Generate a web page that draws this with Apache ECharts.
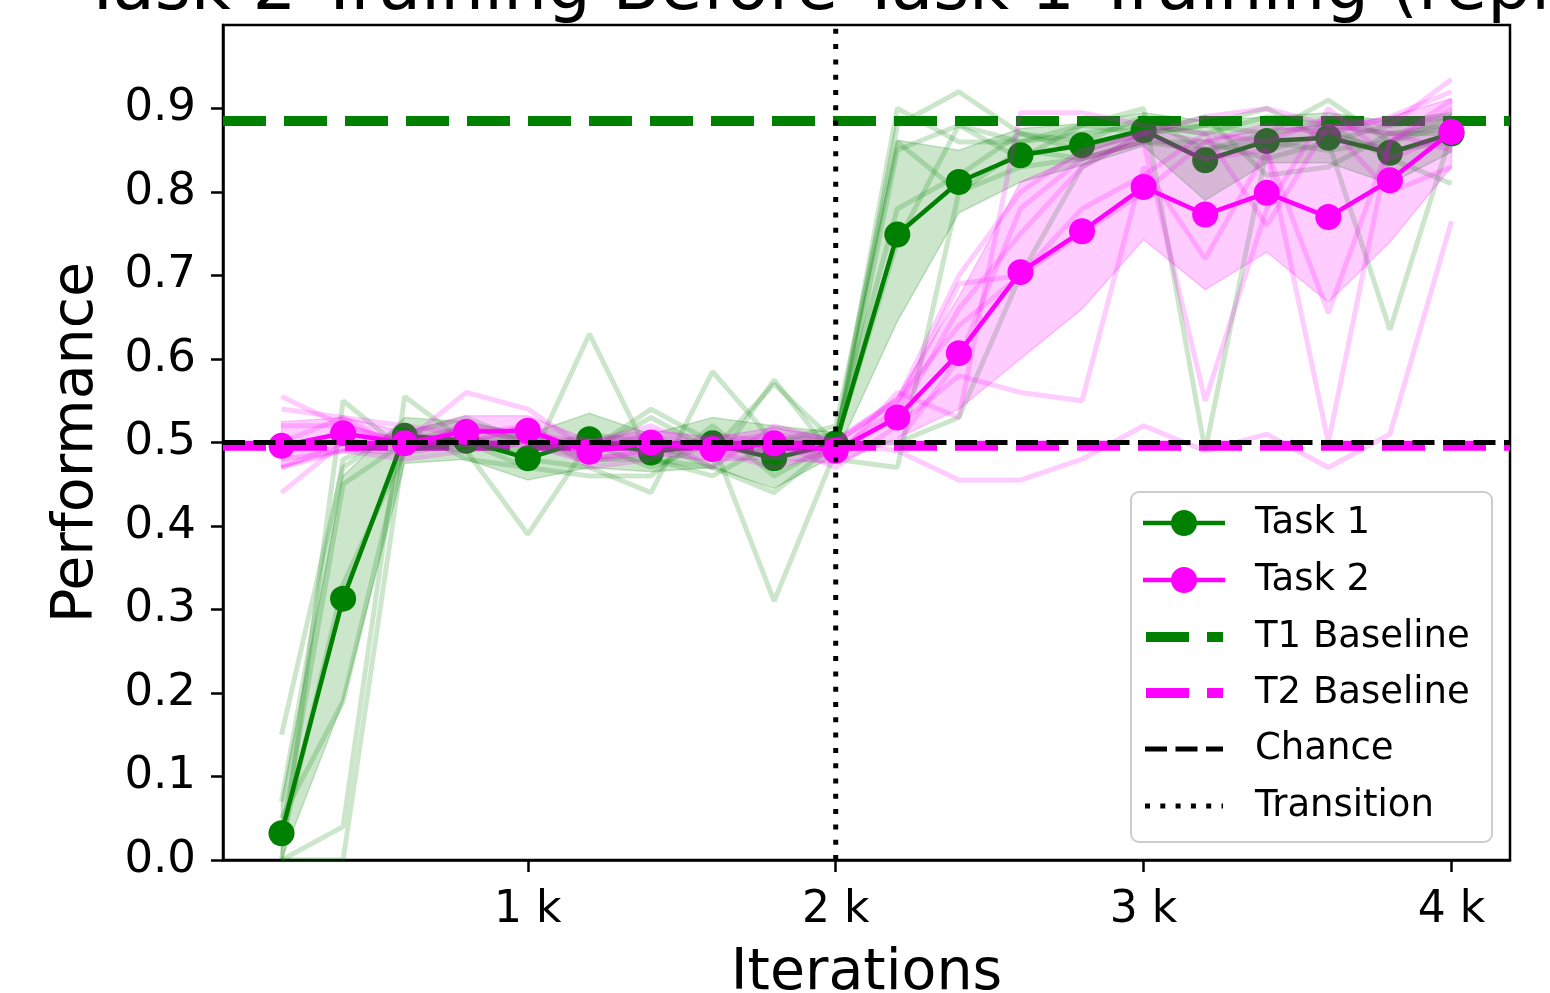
<!DOCTYPE html>
<html>
<head>
<meta charset="utf-8">
<script src="https://cdn.jsdelivr.net/npm/echarts@6/dist/echarts.min.js"></script>
<style>
  html, body { margin: 0; padding: 0; background: #ffffff; }
  #chart { width: 1550px; height: 993px; }
</style>
</head>
<body>
<div id="chart"></div>
<script>
// Evaluation checkpoints (training iterations)
const ITERATIONS = [200, 400, 600, 800, 1000, 1200, 1400, 1600, 1800, 2000,
                    2200, 2400, 2600, 2800, 3000, 3200, 3400, 3600, 3800, 4000];

// Mean performance across replicates
const TASK1_MEAN = [0.032, 0.313, 0.508, 0.502, 0.481, 0.504, 0.488, 0.499, 0.481, 0.499,
                    0.749, 0.812, 0.844, 0.856, 0.874, 0.838, 0.861, 0.865, 0.847, 0.870];
const TASK2_MEAN = [0.496, 0.511, 0.499, 0.513, 0.514, 0.489, 0.500, 0.492, 0.499, 0.490,
                    0.530, 0.607, 0.704, 0.753, 0.806, 0.773, 0.799, 0.770, 0.814, 0.872];

// Spread band (lower / upper) around each mean
const TASK1_LOW  = [0.000, 0.190, 0.475, 0.480, 0.455, 0.470, 0.465, 0.470, 0.445, 0.485,
                    0.645, 0.775, 0.812, 0.832, 0.855, 0.790, 0.835, 0.835, 0.810, 0.848];
const TASK1_HIGH = [0.070, 0.460, 0.530, 0.525, 0.510, 0.535, 0.510, 0.530, 0.520, 0.512,
                    0.862, 0.850, 0.876, 0.882, 0.895, 0.885, 0.890, 0.895, 0.885, 0.895];
const TASK2_LOW  = [0.470, 0.490, 0.485, 0.495, 0.495, 0.475, 0.485, 0.478, 0.480, 0.475,
                    0.505, 0.540, 0.600, 0.660, 0.743, 0.683, 0.728, 0.668, 0.740, 0.830];
const TASK2_HIGH = [0.525, 0.530, 0.513, 0.532, 0.532, 0.503, 0.515, 0.506, 0.518, 0.505,
                    0.555, 0.675, 0.812, 0.845, 0.875, 0.862, 0.875, 0.880, 0.890, 0.912];

// Individual replicate runs, Task 1
const TASK1_RUNS = [
  [0.00, 0.00, 0.50, 0.49, 0.39, 0.50, 0.47, 0.50, 0.49, 0.50, 0.90, 0.86, 0.86, 0.87, 0.88, 0.87, 0.89, 0.88, 0.87, 0.88],
  [0.15, 0.47, 0.52, 0.48, 0.47, 0.63, 0.48, 0.47, 0.44, 0.50, 0.88, 0.92, 0.87, 0.86, 0.89, 0.85, 0.87, 0.91, 0.86, 0.89],
  [0.07, 0.48, 0.51, 0.53, 0.50, 0.49, 0.54, 0.50, 0.31, 0.49, 0.85, 0.88, 0.84, 0.88, 0.90, 0.49, 0.85, 0.87, 0.85, 0.86],
  [0.03, 0.45, 0.50, 0.51, 0.48, 0.47, 0.44, 0.585, 0.50, 0.51, 0.78, 0.82, 0.87, 0.85, 0.87, 0.88, 0.87, 0.88, 0.84, 0.81],
  [0.00, 0.04, 0.555, 0.50, 0.49, 0.51, 0.50, 0.47, 0.575, 0.48, 0.47, 0.80, 0.85, 0.84, 0.86, 0.86, 0.84, 0.86, 0.635, 0.87],
  [0.02, 0.33, 0.49, 0.50, 0.47, 0.46, 0.46, 0.52, 0.46, 0.50, 0.50, 0.53, 0.70, 0.83, 0.87, 0.88, 0.90, 0.86, 0.88, 0.89],
  [0.05, 0.19, 0.50, 0.52, 0.50, 0.48, 0.48, 0.46, 0.50, 0.52, 0.86, 0.80, 0.83, 0.84, 0.86, 0.85, 0.86, 0.85, 0.86, 0.88],
  [0.00, 0.55, 0.49, 0.50, 0.51, 0.49, 0.53, 0.49, 0.57, 0.50, 0.74, 0.88, 0.86, 0.88, 0.87, 0.89, 0.82, 0.83, 0.87, 0.87]
];

// Individual replicate runs, Task 2
const TASK2_RUNS = [
  [0.555, 0.52, 0.50, 0.56, 0.54, 0.49, 0.50, 0.49, 0.50, 0.48, 0.56, 0.53, 0.895, 0.895, 0.88, 0.87, 0.86, 0.89, 0.88, 0.935],
  [0.44, 0.50, 0.51, 0.50, 0.52, 0.48, 0.49, 0.50, 0.51, 0.50, 0.49, 0.455, 0.455, 0.48, 0.52, 0.49, 0.51, 0.47, 0.51, 0.765],
  [0.54, 0.53, 0.49, 0.52, 0.51, 0.50, 0.52, 0.49, 0.49, 0.49, 0.53, 0.66, 0.75, 0.83, 0.87, 0.84, 0.85, 0.655, 0.86, 0.90],
  [0.48, 0.49, 0.50, 0.50, 0.50, 0.49, 0.51, 0.47, 0.52, 0.50, 0.55, 0.64, 0.70, 0.75, 0.80, 0.86, 0.88, 0.87, 0.89, 0.92],
  [0.50, 0.53, 0.52, 0.51, 0.52, 0.47, 0.48, 0.51, 0.50, 0.47, 0.52, 0.58, 0.56, 0.55, 0.83, 0.72, 0.85, 0.50, 0.86, 0.91],
  [0.47, 0.50, 0.49, 0.52, 0.50, 0.50, 0.50, 0.49, 0.47, 0.49, 0.50, 0.60, 0.78, 0.84, 0.86, 0.55, 0.78, 0.90, 0.84, 0.87],
  [0.52, 0.52, 0.50, 0.50, 0.52, 0.48, 0.49, 0.50, 0.50, 0.50, 0.55, 0.70, 0.80, 0.85, 0.87, 0.89, 0.90, 0.88, 0.87, 0.85],
  [0.47, 0.49, 0.48, 0.49, 0.50, 0.50, 0.51, 0.49, 0.50, 0.49, 0.54, 0.69, 0.70, 0.78, 0.82, 0.87, 0.76, 0.88, 0.80, 0.83]
];

// Reference levels
const T1_BASELINE = 0.885;
const T2_BASELINE = 0.496;
const CHANCE = 0.5;
const TRANSITION = 2000;

// Axis settings
const X_MIN = 10, X_MAX = 4190;
const X_TICKS = [1000, 2000, 3000, 4000];
const Y_TICKS = [0, 0.1, 0.2, 0.3, 0.4, 0.5, 0.6, 0.7, 0.8, 0.9];

const TITLE = 'Task 2 Training Before Task 1 Training (replay)';
const LEGEND_LABELS = ['Task 1', 'Task 2', 'T1 Baseline', 'T2 Baseline', 'Chance', 'Transition'];

const GREEN = '#008000';
const MAGENTA = '#ff00ff';
const FONT = 'DejaVu Sans';

const pairs = (ys) => ITERATIONS.map((x, i) => [x, ys[i]]);

function runSeries(runs, color, z) {
  return runs.map((r) => ({
    type: 'line',
    data: pairs(r),
    showSymbol: false,
    symbol: 'none',
    silent: true,
    z: z,
    lineStyle: { color: color, width: 5, opacity: 0.2 },
    animation: false
  }));
}

function bandSeries(low, high, color, z) {
  return {
    type: 'custom',
    silent: true,
    z: z,
    data: [0],
    renderItem: function (params, api) {
      const pts = [];
      for (let i = 0; i < ITERATIONS.length; i++) pts.push(api.coord([ITERATIONS[i], high[i]]));
      for (let i = ITERATIONS.length - 1; i >= 0; i--) pts.push(api.coord([ITERATIONS[i], low[i]]));
      return {
        type: 'polygon',
        shape: { points: pts },
        style: { fill: color, opacity: 0.2, stroke: color, lineWidth: 1.5 }
      };
    },
    animation: false
  };
}

function meanSeries(ys, color, z) {
  return {
    type: 'line',
    data: pairs(ys),
    symbol: 'circle',
    symbolSize: 26,
    z: z,
    lineStyle: { color: color, width: 4.5 },
    itemStyle: { color: color },
    animation: false
  };
}

function hLine(y, color, width, dash, z) {
  return {
    type: 'line',
    data: [[X_MIN, y], [X_MAX, y]],
    symbol: 'none',
    silent: true,
    z: z,
    lineStyle: { color: color, width: width, type: dash, cap: 'butt' },
    animation: false
  };
}

const series = [].concat(
  [hLine(T1_BASELINE, GREEN, 10, [43, 18], 1), hLine(T2_BASELINE, MAGENTA, 10, [43, 18], 1)],
  runSeries(TASK1_RUNS, GREEN, 2),
  [bandSeries(TASK1_LOW, TASK1_HIGH, GREEN, 2), meanSeries(TASK1_MEAN, GREEN, 3)],
  runSeries(TASK2_RUNS, MAGENTA, 4),
  [bandSeries(TASK2_LOW, TASK2_HIGH, MAGENTA, 4), meanSeries(TASK2_MEAN, MAGENTA, 5)],
  [hLine(CHANCE, '#000000', 5, [22, 8.5], 6),
   {
     type: 'line',
     data: [[TRANSITION, 0], [TRANSITION, 1]],
     symbol: 'none',
     silent: true,
     z: 6,
     lineStyle: { color: '#000000', width: 5, type: [5, 10.3], cap: 'butt' },
     animation: false
   }]
);

// Legend drawn as graphic elements
const LEG_X0 = 1131, LEG_Y0 = 492, LEG_W = 361, LEG_H = 350;
const ROW_Y = [523, 580, 637, 693, 749, 806];
const legendGraphics = [
  { type: 'rect', shape: { x: LEG_X0, y: LEG_Y0, width: LEG_W, height: LEG_H, r: 8 },
    style: { fill: 'rgba(255,255,255,0.8)', stroke: '#cccccc', lineWidth: 2 }, z: 100 },
  { type: 'line', shape: { x1: 1143, y1: ROW_Y[0], x2: 1225, y2: ROW_Y[0] }, style: { stroke: GREEN, lineWidth: 4.5 }, z: 101 },
  { type: 'circle', shape: { cx: 1184, cy: ROW_Y[0], r: 13 }, style: { fill: GREEN }, z: 102 },
  { type: 'line', shape: { x1: 1143, y1: ROW_Y[1], x2: 1225, y2: ROW_Y[1] }, style: { stroke: MAGENTA, lineWidth: 4.5 }, z: 101 },
  { type: 'circle', shape: { cx: 1184, cy: ROW_Y[1], r: 13 }, style: { fill: MAGENTA }, z: 102 },
  { type: 'line', shape: { x1: 1146, y1: ROW_Y[2], x2: 1223, y2: ROW_Y[2] }, style: { stroke: GREEN, lineWidth: 10, lineDash: [43, 18], lineCap: 'butt' }, z: 101 },
  { type: 'line', shape: { x1: 1146, y1: ROW_Y[3], x2: 1223, y2: ROW_Y[3] }, style: { stroke: MAGENTA, lineWidth: 10, lineDash: [43, 18], lineCap: 'butt' }, z: 101 },
  { type: 'line', shape: { x1: 1145, y1: ROW_Y[4], x2: 1223, y2: ROW_Y[4] }, style: { stroke: '#000', lineWidth: 5, lineDash: [22, 8.5], lineCap: 'butt' }, z: 101 },
  { type: 'line', shape: { x1: 1145, y1: ROW_Y[5], x2: 1223, y2: ROW_Y[5] }, style: { stroke: '#000', lineWidth: 5, lineDash: [5, 10.3], lineCap: 'butt' }, z: 101 }
].concat(LEGEND_LABELS.map((t, i) => ({
  type: 'text', z: 102,
  style: { text: t, x: 1255, y: ROW_Y[i], fill: '#000', font: '37px "DejaVu Sans"', verticalAlign: 'middle', align: 'left' }
})));

const chart = echarts.init(document.getElementById('chart'), null, { renderer: 'canvas' });
chart.setOption({
  animation: false,
  backgroundColor: '#ffffff',
  textStyle: { fontFamily: FONT },
  title: {
    text: TITLE,
    left: 866,
    top: -48,
    textAlign: 'center',
    textStyle: { fontFamily: FONT, fontSize: 69, fontWeight: 'normal', color: '#000' }
  },
  grid: {
    left: 223, right: 40, top: 25, bottom: 133,
    containLabel: false,
    outerBoundsMode: 'none',
    show: true, borderColor: '#000', borderWidth: 2.5, backgroundColor: 'transparent'
  },
  xAxis: {
    type: 'value',
    min: X_MIN, max: X_MAX,
    name: 'Iterations',
    nameLocation: 'middle',
    nameGap: 86,
    nameTextStyle: { fontFamily: FONT, fontSize: 57, color: '#000' },
    splitLine: { show: false },
    axisLine: { show: true, lineStyle: { color: '#000', width: 2.5 } },
    axisTick: { show: true, customValues: X_TICKS, length: 12, lineStyle: { color: '#000', width: 2.5 } },
    axisLabel: { customValues: X_TICKS, margin: 29, fontFamily: FONT, fontSize: 44, color: '#000',
                 formatter: (v) => (v / 1000) + ' k' }
  },
  yAxis: {
    type: 'value',
    min: 0, max: 1.0,
    name: 'Performance',
    nameLocation: 'middle',
    nameGap: 117,
    nameRotate: 90,
    nameTextStyle: { fontFamily: FONT, fontSize: 57, color: '#000' },
    splitLine: { show: false },
    axisLine: { show: true, lineStyle: { color: '#000', width: 2.5 } },
    axisTick: { show: true, customValues: Y_TICKS, length: 12, lineStyle: { color: '#000', width: 2.5 } },
    axisLabel: { customValues: Y_TICKS, margin: 27, fontFamily: FONT, fontSize: 45, color: '#000',
                 formatter: (v) => v.toFixed(1) }
  },
  series: series,
  graphic: legendGraphics
});
</script>
</body>
</html>
